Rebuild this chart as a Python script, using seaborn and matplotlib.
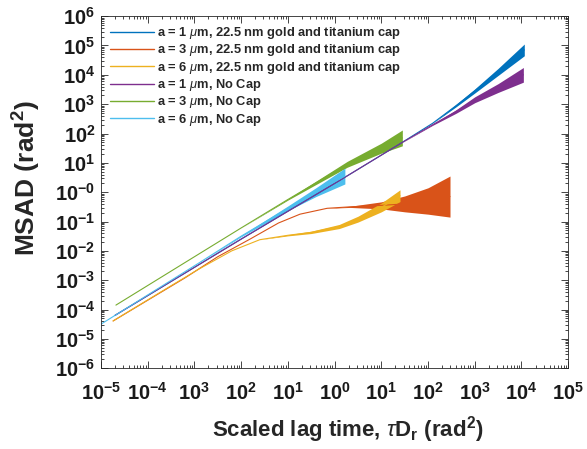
import numpy as np
import pandas as pd
import matplotlib
matplotlib.use("Agg")
import matplotlib.pyplot as plt
import seaborn as sns
from matplotlib.ticker import LogLocator, NullFormatter

# values, as powers of ten (log10 of lag time / MSAD)
# noise = half width of the noisy band, in decades
blue_x = [-4.7, -2.0, 0.12, 1.4, 2.1, 2.6, 3.0, 3.5, 4.06]
blue_y = [-4.2, -1.6, 0.41, 1.65, 2.35, 2.95, 3.45, 4.1, 4.85]
blue_noise = [0, 0, 0, 0, 0, 0.04, 0.07, 0.12, 0.2]

orange_x = [-4.74, -3.2, -2.5, -1.81, -1.2, -0.74, -0.16, 0.33, 1.0, 1.5, 2.0, 2.47]
orange_y = [-4.39, -2.92, -2.2, -1.6, -1.05, -0.75, -0.55, -0.5, -0.45, -0.4, -0.3, -0.15]
orange_noise = [0, 0, 0, 0, 0, 0, 0, 0.02, 0.12, 0.27, 0.45, 0.7]

yellow_x = [-4.74, -3.5, -2.88, -2.2, -1.6, -1.0, -0.5, 0.1, 0.5, 1.0, 1.4]
yellow_y = [-4.39, -3.19, -2.6, -2.0, -1.62, -1.47, -1.37, -1.17, -0.92, -0.52, -0.12]
yellow_noise = [0, 0, 0, 0, 0, 0.02, 0.04, 0.07, 0.1, 0.15, 0.2]

purple_x = [-4.7, -2.0, 0.12, 1.4, 2.1, 2.6, 3.0, 3.5, 4.04]
purple_y = [-4.2, -1.6, 0.41, 1.65, 2.3, 2.75, 3.15, 3.55, 4.0]
purple_noise = [0, 0, 0, 0, 0.02, 0.06, 0.1, 0.15, 0.25]

green_x = [-4.68, -2.0, -1.0, 0.27, 1.0, 1.45]
green_y = [-3.85, -1.22, -0.25, 0.95, 1.5, 1.85]
green_noise = [0, 0, 0.02, 0.1, 0.17, 0.27]

cyan_x = [-5.0, -2.88, -2.0, -1.0, -0.4, 0.22]
cyan_y = [-4.5, -2.39, -1.5, -0.55, 0.0, 0.55]
cyan_noise = [0, 0, 0.02, 0.08, 0.15, 0.27]

labels = [
    r"a = 1 $\mu$m, 22.5 nm gold and titanium cap",
    r"a = 3 $\mu$m, 22.5 nm gold and titanium cap",
    r"a = 6 $\mu$m, 22.5 nm gold and titanium cap",
    r"a = 1 $\mu$m, No Cap",
    r"a = 3 $\mu$m, No Cap",
    r"a = 6 $\mu$m, No Cap",
]
colors = ["#0072BD", "#D95319", "#EDB120", "#7E2F8E", "#77AC30", "#4DBEEE"]

xtick_exp = list(range(-5, 6))
xtick_labels = ["-5", "-4", "3", "2", "1", "0", "1", "2", "3", "4", "5"]
ytick_exp = list(range(-6, 7))
ytick_labels = ["-6", "-5", "-4", "-3", "-2", "-1", "-0", "1", "2", "3", "4", "5", "6"]

series = [
    (blue_x, blue_y, blue_noise),
    (orange_x, orange_y, orange_noise),
    (yellow_x, yellow_y, yellow_noise),
    (purple_x, purple_y, purple_noise),
    (green_x, green_y, green_noise),
    (cyan_x, cyan_y, cyan_noise),
]

sns.set_style("ticks")
plt.rcParams["font.family"] = ["Liberation Sans", "DejaVu Sans"]
plt.rcParams["mathtext.fontset"] = "custom"
plt.rcParams["mathtext.rm"] = "Liberation Sans:bold"
plt.rcParams["mathtext.bf"] = "Liberation Sans:bold"
plt.rcParams["mathtext.it"] = "Liberation Sans:italic"
plt.rcParams["mathtext.sf"] = "Liberation Sans:bold"

fig = plt.figure(figsize=(5.87, 4.49), dpi=100)
ax = fig.add_axes([0.172, 0.180, 0.796, 0.784])

for (xs, ys, ns), lab, col in zip(series, labels, colors):
    df = pd.DataFrame({"tau": np.power(10.0, xs), "msad": np.power(10.0, ys)})
    sns.lineplot(data=df, x="tau", y="msad", color=col, lw=0.8, label=lab,
                 sort=False, estimator=None, ax=ax)
    lo = np.power(10.0, np.array(ys) - np.array(ns))
    hi = np.power(10.0, np.array(ys) + np.array(ns))
    ax.fill_between(df["tau"], lo, hi, color=col, lw=0)

ax.set(xscale="log", yscale="log")
ax.set_xlim(1e-5, 1e5)
ax.set_ylim(1e-6, 1e6)

ax.set_xticks([10.0 ** e for e in xtick_exp],
              [r"$\mathbf{10^{%s}}$" % t for t in xtick_labels])
ax.set_yticks([10.0 ** e for e in ytick_exp],
              [r"$\mathbf{10^{%s}}$" % t for t in ytick_labels])
for axis in (ax.xaxis, ax.yaxis):
    axis.set_minor_locator(LogLocator(base=10, subs=np.arange(2, 10), numticks=100))
    axis.set_minor_formatter(NullFormatter())

ax.tick_params(which="both", direction="in", top=True, right=True,
               color="#262626", width=0.6)
ax.tick_params(which="major", length=5, labelsize=14.5, labelcolor="#1a1a1a")
ax.tick_params(which="minor", length=2.5)
ax.tick_params(axis="x", which="major", pad=10)
ax.tick_params(axis="y", which="major", pad=4)
for sp in ax.spines.values():
    sp.set_color("#262626")
    sp.set_linewidth(0.6)
    sp.set_visible(True)

ax.set_xlabel(r"Scaled lag time, $\tau$D$_\mathbf{r}$ (rad$^\mathbf{2}$)",
              fontsize=16, fontweight="bold")
ax.xaxis.set_label_coords(0.529, -0.13)
ax.set_ylabel(r"MSAD (rad$^\mathbf{2}$)", fontsize=19, fontweight="bold")
ax.yaxis.set_label_coords(-0.125, 0.54)

leg = ax.legend(loc="upper left", frameon=False,
                prop={"weight": "bold", "size": 9.3},
                handlelength=3.4, handletextpad=0.25, labelspacing=0.1,
                borderaxespad=0.5, borderpad=0.2)
for h in leg.get_lines():
    h.set_linewidth(1.0)

fig.savefig("out.png", dpi=100)
